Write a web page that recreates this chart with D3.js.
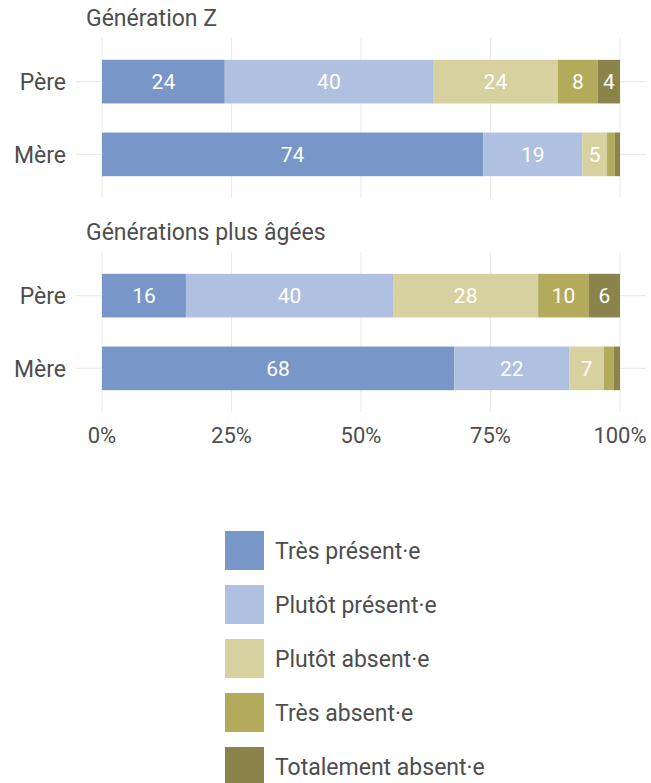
<!DOCTYPE html>
<html><head><meta charset="utf-8">
<script src="https://cdn.jsdelivr.net/npm/d3@7"></script>
<style>body{margin:0;background:#fff;} text{font-family:Roboto,"Liberation Sans",sans-serif;}</style>
</head><body>
<script>
const categories = ["Très présent·e","Plutôt présent·e","Plutôt absent·e","Très absent·e","Totalement absent·e"];
const colors = ["#7896c8","#b0c0e0","#d7d09f","#b3aa5b","#8a844b"];
const panels = ["Génération Z","Générations plus âgées"];
const parents = ["Père","Mère"];
const genZ_pere = [23.7,40.2,24.1,7.7,4.3];
const genZ_mere = [73.6,19.1,4.8,1.5,1.0];
const older_pere = [16.2,40.0,28.0,9.8,6.0];
const older_mere = [68.0,22.2,6.7,1.9,1.2];
const xTicks = [0,25,50,75,100];
const panelData = [[genZ_pere,genZ_mere],[older_pere,older_mere]];

const W=651,H=783;
const svg=d3.select("body").append("svg").attr("width",W).attr("height",H);
const x=d3.scaleLinear().domain([0,100]).range([102,620]);
const panelTops=[38,252];
const panelH=160;
const textCol="#4d4d4d";

panelData.forEach((rows,pi)=>{
  const top=panelTops[pi];
  const y=d3.scalePoint().domain(parents).range([top,top+panelH]).padding(0.6);
  const bh=y.step()*0.6;
  const g=svg.append("g");
  g.selectAll(".vg").data(xTicks).join("line")
    .attr("x1",d=>x(d)).attr("x2",d=>x(d)).attr("y1",top).attr("y2",top+panelH)
    .attr("stroke","#ebebeb").attr("stroke-width",1.1);
  g.selectAll(".hg").data(parents).join("line")
    .attr("x1",76).attr("x2",646).attr("y1",d=>y(d)).attr("y2",d=>y(d))
    .attr("stroke","#ebebeb").attr("stroke-width",1.1);
  g.append("text").attr("x",86).attr("y",top-12).attr("fill",textCol).attr("font-size",23).text(panels[pi]);
  g.selectAll(".yl").data(parents).join("text")
    .attr("x",66).attr("y",d=>y(d)).attr("dy","0.36em").attr("text-anchor","end")
    .attr("fill",textCol).attr("font-size",23).text(d=>d);
  rows.forEach((vals,ri)=>{
    let cum=0;
    const segs=vals.map((v,i)=>{const s={v,i,x0:cum,x1:cum+v};cum+=v;return s;});
    const yc=y(parents[ri]);
    g.selectAll(null).data(segs).join("rect")
      .attr("x",d=>x(d.x0)).attr("width",d=>x(d.x1)-x(d.x0))
      .attr("y",yc-bh/2).attr("height",bh).attr("fill",d=>colors[d.i]);
    g.selectAll(null).data(segs.filter(d=>d.v>=3)).join("text")
      .attr("x",d=>x((d.x0+d.x1)/2)).attr("y",yc).attr("dy","0.36em")
      .attr("text-anchor","middle").attr("fill","#fff").attr("font-size",21)
      .text(d=>Math.round(d.v));
  });
});
svg.selectAll(".xt").data(xTicks).join("text")
  .attr("x",d=>x(d)).attr("y",443).attr("text-anchor","middle").attr("fill",textCol).attr("font-size",22)
  .text(d=>d+"%");
const lg=svg.append("g");
categories.forEach((c,i)=>{
  const yy=531+i*54;
  lg.append("rect").attr("x",225).attr("y",yy).attr("width",39).attr("height",39).attr("fill",colors[i]);
  lg.append("text").attr("x",275).attr("y",yy+19.5).attr("dy","0.36em").attr("fill",textCol).attr("font-size",23).text(c);
});
</script>
</body></html>
